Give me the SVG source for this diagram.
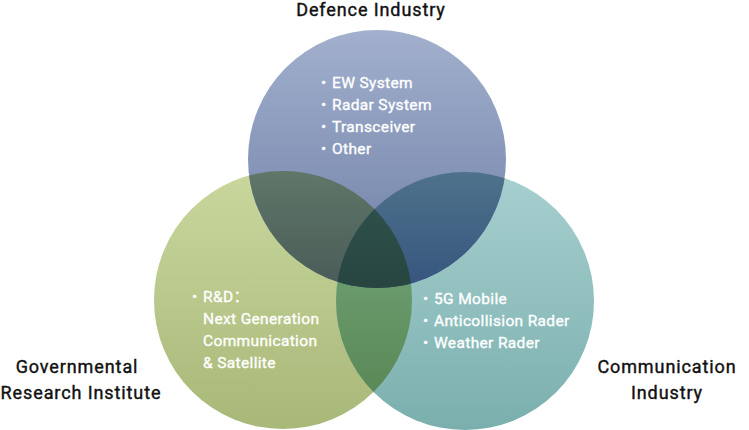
<svg xmlns="http://www.w3.org/2000/svg" width="749" height="430" viewBox="0 0 749 430">
<style>
.lbl{font-family:Roboto,"Liberation Sans","Noto Sans CJK SC",sans-serif;font-size:18px;font-weight:400;letter-spacing:0.9px;fill:#111;stroke:#111;stroke-width:0.4px;text-anchor:middle}
.item{font-family:Roboto,"Liberation Sans","Noto Sans CJK SC",sans-serif;font-size:15.5px;font-weight:400;letter-spacing:0.35px;fill:#fff;stroke:#fff;stroke-width:0.35px}
</style>
<defs>
<linearGradient id="gTop" gradientUnits="userSpaceOnUse" x1="0" y1="30" x2="0" y2="288"><stop offset="0" stop-color="#a2b0cd"/><stop offset="1" stop-color="#6d7ea5"/></linearGradient>
<linearGradient id="gLeft" gradientUnits="userSpaceOnUse" x1="0" y1="172" x2="0" y2="429"><stop offset="0" stop-color="#c9d79d"/><stop offset="1" stop-color="#a8b878"/></linearGradient>
<linearGradient id="gRight" gradientUnits="userSpaceOnUse" x1="0" y1="172" x2="0" y2="430"><stop offset="0" stop-color="#a7d0cf"/><stop offset="1" stop-color="#7aafae"/></linearGradient>
<linearGradient id="gTL" gradientUnits="userSpaceOnUse" x1="0" y1="172" x2="0" y2="288"><stop offset="0" stop-color="#5f7668"/><stop offset="1" stop-color="#4a5b57"/></linearGradient>
<linearGradient id="gTR" gradientUnits="userSpaceOnUse" x1="0" y1="172" x2="0" y2="288"><stop offset="0" stop-color="#4e728b"/><stop offset="1" stop-color="#37557e"/></linearGradient>
<linearGradient id="gC" gradientUnits="userSpaceOnUse" x1="0" y1="208" x2="0" y2="288"><stop offset="0" stop-color="#2e504a"/><stop offset="1" stop-color="#284540"/></linearGradient>
<linearGradient id="gLR" gradientUnits="userSpaceOnUse" x1="0" y1="280" x2="0" y2="392"><stop offset="0" stop-color="#6a9b6c"/><stop offset="1" stop-color="#5b8857"/></linearGradient>
<clipPath id="cLeft"><circle cx="283" cy="300" r="129"/></clipPath>
<clipPath id="cRight"><circle cx="465" cy="301" r="129"/></clipPath>
</defs>
<g id="node-governmental">
<circle cx="283" cy="300" r="129" fill="url(#gLeft)"/>
</g>
<g id="node-communication">
<circle cx="465" cy="301" r="129" fill="url(#gRight)"/>
</g>
<g id="node-defence">
<circle cx="377" cy="159" r="129" fill="url(#gTop)"/>
</g>
<g id="overlaps">
<circle cx="465" cy="301" r="129" fill="url(#gLR)" clip-path="url(#cLeft)"/>
<circle cx="377" cy="159" r="129" fill="url(#gTL)" clip-path="url(#cLeft)"/>
<circle cx="377" cy="159" r="129" fill="url(#gTR)" clip-path="url(#cRight)"/>
<g clip-path="url(#cRight)"><circle cx="377" cy="159" r="129" fill="url(#gC)" clip-path="url(#cLeft)"/></g>
</g>
<g id="labels">
<text class="lbl" x="371" y="15.5">Defence Industry</text>
<text class="lbl" x="77" y="373">Governmental</text>
<text class="lbl" x="81" y="399">Research Institute</text>
<text class="lbl" x="667" y="373">Communication</text>
<text class="lbl" x="667" y="399">Industry</text>
</g>
<g id="items">
<text class="item" y="88"><tspan x="321">•</tspan><tspan x="332">EW System</tspan></text>
<text class="item" y="110"><tspan x="321">•</tspan><tspan x="332">Radar System</tspan></text>
<text class="item" y="132"><tspan x="321">•</tspan><tspan x="332">Transceiver</tspan></text>
<text class="item" y="154"><tspan x="321">•</tspan><tspan x="332">Other</tspan></text>
<text class="item" y="302"><tspan x="192">•</tspan><tspan x="203">R&amp;D：</tspan></text>
<text class="item" x="203" y="324">Next Generation</text>
<text class="item" x="203" y="346">Communication</text>
<text class="item" x="203" y="368">&amp; Satellite</text>
<text class="item" y="304"><tspan x="423">•</tspan><tspan x="434">5G Mobile</tspan></text>
<text class="item" y="326"><tspan x="423">•</tspan><tspan x="434">Anticollision Rader</tspan></text>
<text class="item" y="348"><tspan x="423">•</tspan><tspan x="434">Weather Rader</tspan></text>
</g>
</svg>
